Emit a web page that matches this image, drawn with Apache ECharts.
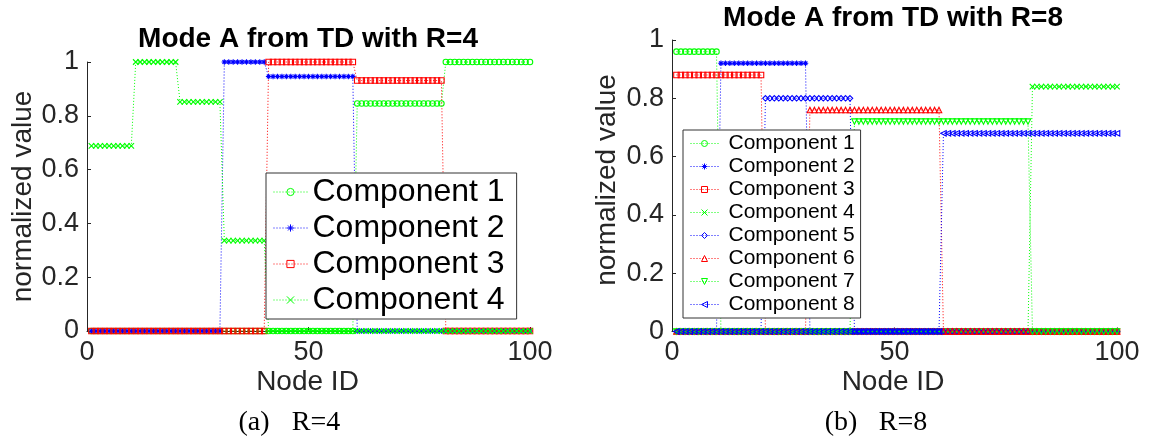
<!DOCTYPE html>
<html><head><meta charset="utf-8">
<script src="https://cdn.jsdelivr.net/npm/echarts@6/dist/echarts.min.js"></script>
<style>html,body{margin:0;padding:0;background:#fff}#c{width:1150px;height:440px}</style>
</head><body><div id="c"></div>
<script>
// ---------- data ----------
const nodeIds = [
1,2,3,4,5,6,7,8,9,10,
11,12,13,14,15,16,17,18,19,20,
21,22,23,24,25,26,27,28,29,30,
31,32,33,34,35,36,37,38,39,40,
41,42,43,44,45,46,47,48,49,50,
51,52,53,54,55,56,57,58,59,60,
61,62,63,64,65,66,67,68,69,70,
71,72,73,74,75,76,77,78,79,80,
81,82,83,84,85,86,87,88,89,90,
91,92,93,94,95,96,97,98,99,100];

const xTicks = [0, 50, 100];
const yTicks = [0, 0.2, 0.4, 0.6, 0.8, 1];

const namesR4 = ['Component 1','Component 2','Component 3','Component 4'];
const namesR8 = ['Component 1','Component 2','Component 3','Component 4','Component 5','Component 6','Component 7','Component 8'];

// R = 4
const r4Comp1 = [
0,0,0,0,0,0,0,0,0,0,
0,0,0,0,0,0,0,0,0,0,
0,0,0,0,0,0,0,0,0,0,
0,0,0,0,0,0,0,0,0,0,
0,0,0,0,0,0,0,0,0,0,
0,0,0,0,0,0,0,0,0,0,
0.846,0.846,0.846,0.846,0.846,0.846,0.846,0.846,0.846,0.846,
0.846,0.846,0.846,0.846,0.846,0.846,0.846,0.846,0.846,0.846,
1,1,1,1,1,1,1,1,1,1,
1,1,1,1,1,1,1,1,1,1];
const r4Comp2 = [
0,0,0,0,0,0,0,0,0,0,
0,0,0,0,0,0,0,0,0,0,
0,0,0,0,0,0,0,0,0,0,
1,1,1,1,1,1,1,1,1,1,
0.946,0.946,0.946,0.946,0.946,0.946,0.946,0.946,0.946,0.946,
0.946,0.946,0.946,0.946,0.946,0.946,0.946,0.946,0.946,0.946,
0,0,0,0,0,0,0,0,0,0,
0,0,0,0,0,0,0,0,0,0,
0,0,0,0,0,0,0,0,0,0,
0,0,0,0,0,0,0,0,0,0];
const r4Comp3 = [
0,0,0,0,0,0,0,0,0,0,
0,0,0,0,0,0,0,0,0,0,
0,0,0,0,0,0,0,0,0,0,
0,0,0,0,0,0,0,0,0,0,
1,1,1,1,1,1,1,1,1,1,
1,1,1,1,1,1,1,1,1,1,
0.931,0.931,0.931,0.931,0.931,0.931,0.931,0.931,0.931,0.931,
0.931,0.931,0.931,0.931,0.931,0.931,0.931,0.931,0.931,0.931,
0,0,0,0,0,0,0,0,0,0,
0,0,0,0,0,0,0,0,0,0];
const r4Comp4 = [
0.688,0.688,0.688,0.688,0.688,0.688,0.688,0.688,0.688,0.688,
1,1,1,1,1,1,1,1,1,1,
0.852,0.852,0.852,0.852,0.852,0.852,0.852,0.852,0.852,0.852,
0.336,0.336,0.336,0.336,0.336,0.336,0.336,0.336,0.336,0.336,
0,0,0,0,0,0,0,0,0,0,
0,0,0,0,0,0,0,0,0,0,
0,0,0,0,0,0,0,0,0,0,
0,0,0,0,0,0,0,0,0,0,
0,0,0,0,0,0,0,0,0,0,
0,0,0,0,0,0,0,0,0,0];

// R = 8
const r8Comp1 = [
0.96,0.96,0.96,0.96,0.96,0.96,0.96,0.96,0.96,0.96,
0,0,0,0,0,0,0,0,0,0,
0,0,0,0,0,0,0,0,0,0,
0,0,0,0,0,0,0,0,0,0,
0,0,0,0,0,0,0,0,0,0,
0,0,0,0,0,0,0,0,0,0,
0,0,0,0,0,0,0,0,0,0,
0,0,0,0,0,0,0,0,0,0,
0,0,0,0,0,0,0,0,0,0,
0,0,0,0,0,0,0,0,0,0];
const r8Comp2 = [
0,0,0,0,0,0,0,0,0,0,
0.92,0.92,0.92,0.92,0.92,0.92,0.92,0.92,0.92,0.92,
0.92,0.92,0.92,0.92,0.92,0.92,0.92,0.92,0.92,0.92,
0,0,0,0,0,0,0,0,0,0,
0,0,0,0,0,0,0,0,0,0,
0,0,0,0,0,0,0,0,0,0,
0,0,0,0,0,0,0,0,0,0,
0,0,0,0,0,0,0,0,0,0,
0,0,0,0,0,0,0,0,0,0,
0,0,0,0,0,0,0,0,0,0];
const r8Comp3 = [
0.88,0.88,0.88,0.88,0.88,0.88,0.88,0.88,0.88,0.88,
0.88,0.88,0.88,0.88,0.88,0.88,0.88,0.88,0.88,0.88,
0,0,0,0,0,0,0,0,0,0,
0,0,0,0,0,0,0,0,0,0,
0,0,0,0,0,0,0,0,0,0,
0,0,0,0,0,0,0,0,0,0,
0,0,0,0,0,0,0,0,0,0,
0,0,0,0,0,0,0,0,0,0,
0,0,0,0,0,0,0,0,0,0,
0,0,0,0,0,0,0,0,0,0];
const r8Comp4 = [
0,0,0,0,0,0,0,0,0,0,
0,0,0,0,0,0,0,0,0,0,
0,0,0,0,0,0,0,0,0,0,
0,0,0,0,0,0,0,0,0,0,
0,0,0,0,0,0,0,0,0,0,
0,0,0,0,0,0,0,0,0,0,
0,0,0,0,0,0,0,0,0,0,
0,0,0,0,0,0,0,0,0,0,
0.84,0.84,0.84,0.84,0.84,0.84,0.84,0.84,0.84,0.84,
0.84,0.84,0.84,0.84,0.84,0.84,0.84,0.84,0.84,0.84];
const r8Comp5 = [
0,0,0,0,0,0,0,0,0,0,
0,0,0,0,0,0,0,0,0,0,
0.80,0.80,0.80,0.80,0.80,0.80,0.80,0.80,0.80,0.80,
0.80,0.80,0.80,0.80,0.80,0.80,0.80,0.80,0.80,0.80,
0,0,0,0,0,0,0,0,0,0,
0,0,0,0,0,0,0,0,0,0,
0,0,0,0,0,0,0,0,0,0,
0,0,0,0,0,0,0,0,0,0,
0,0,0,0,0,0,0,0,0,0,
0,0,0,0,0,0,0,0,0,0];
const r8Comp6 = [
0,0,0,0,0,0,0,0,0,0,
0,0,0,0,0,0,0,0,0,0,
0,0,0,0,0,0,0,0,0,0,
0.76,0.76,0.76,0.76,0.76,0.76,0.76,0.76,0.76,0.76,
0.76,0.76,0.76,0.76,0.76,0.76,0.76,0.76,0.76,0.76,
0.76,0.76,0.76,0.76,0.76,0.76,0.76,0.76,0.76,0.76,
0,0,0,0,0,0,0,0,0,0,
0,0,0,0,0,0,0,0,0,0,
0,0,0,0,0,0,0,0,0,0,
0,0,0,0,0,0,0,0,0,0];
const r8Comp7 = [
0,0,0,0,0,0,0,0,0,0,
0,0,0,0,0,0,0,0,0,0,
0,0,0,0,0,0,0,0,0,0,
0,0,0,0,0,0,0,0,0,0,
0.72,0.72,0.72,0.72,0.72,0.72,0.72,0.72,0.72,0.72,
0.72,0.72,0.72,0.72,0.72,0.72,0.72,0.72,0.72,0.72,
0.72,0.72,0.72,0.72,0.72,0.72,0.72,0.72,0.72,0.72,
0.72,0.72,0.72,0.72,0.72,0.72,0.72,0.72,0.72,0.72,
0,0,0,0,0,0,0,0,0,0,
0,0,0,0,0,0,0,0,0,0];
const r8Comp8 = [
0,0,0,0,0,0,0,0,0,0,
0,0,0,0,0,0,0,0,0,0,
0,0,0,0,0,0,0,0,0,0,
0,0,0,0,0,0,0,0,0,0,
0,0,0,0,0,0,0,0,0,0,
0,0,0,0,0,0,0,0,0,0,
0.68,0.68,0.68,0.68,0.68,0.68,0.68,0.68,0.68,0.68,
0.68,0.68,0.68,0.68,0.68,0.68,0.68,0.68,0.68,0.68,
0.68,0.68,0.68,0.68,0.68,0.68,0.68,0.68,0.68,0.68,
0.68,0.68,0.68,0.68,0.68,0.68,0.68,0.68,0.68,0.68];

// ---------- styling ----------
const G = '#00ff00', B = '#0000ff', R = '#ff0000';
const SYM = {
  circle: 'circle',
  star: 'path://M5,0L5,10M0,5L10,5M1.6,1.6L8.4,8.4M8.4,1.6L1.6,8.4',
  square: 'rect',
  cross: 'path://M0,0L10,10M10,0L0,10',
  diamond: 'diamond',
  up: 'triangle',
  down: 'path://M0,0L10,0L5,9Z',
  left: 'path://M10,0L10,10L1,5Z'
};
const SANS = '"Liberation Sans", Arial, Helvetica, sans-serif';
const SERIF = '"Liberation Serif", "Times New Roman", serif';
const AX = '#262626';

function mk(name, vals, color, symbol, gi) {
  return {
    type: 'line', name: name, xAxisIndex: gi, yAxisIndex: gi,
    data: nodeIds.map((n, i) => [n, vals[i]]),
    symbol: symbol, symbolSize: 5.5, showSymbol: true, showAllSymbol: true,
    clip: false, animation: false, silent: true,
    lineStyle: { color: color, width: 1, type: [1, 2] },
    itemStyle: { color: 'rgba(255,255,255,0)', borderColor: color, borderWidth: 1.1 },
    emphasis: { disabled: true }
  };
}

const series = [
  mk(namesR4[0], r4Comp1, G, SYM.circle, 0),
  mk(namesR4[1], r4Comp2, B, SYM.star, 0),
  mk(namesR4[2], r4Comp3, R, SYM.square, 0),
  mk(namesR4[3], r4Comp4, G, SYM.cross, 0),
  mk(namesR8[0], r8Comp1, G, SYM.circle, 1),
  mk(namesR8[1], r8Comp2, B, SYM.star, 1),
  mk(namesR8[2], r8Comp3, R, SYM.square, 1),
  mk(namesR8[3], r8Comp4, G, SYM.cross, 1),
  mk(namesR8[4], r8Comp5, B, SYM.diamond, 1),
  mk(namesR8[5], r8Comp6, R, SYM.up, 1),
  mk(namesR8[6], r8Comp7, G, SYM.down, 1),
  mk(namesR8[7], r8Comp8, B, SYM.left, 1)
];

function xAx(gi) {
  return {
    gridIndex: gi, type: 'value', min: xTicks[0], max: xTicks[xTicks.length - 1], interval: xTicks[1] - xTicks[0],
    axisLine: { show: true, onZero: false, lineStyle: { color: AX, width: 1 } },
    axisTick: { show: true, inside: true, length: 4, lineStyle: { color: AX } },
    axisLabel: { fontSize: 27, color: AX, margin: 8, fontFamily: SANS },
    splitLine: { show: false }
  };
}
function yAx(gi) {
  return {
    gridIndex: gi, type: 'value', min: yTicks[0], max: yTicks[yTicks.length - 1], interval: yTicks[1] - yTicks[0],
    axisLine: { show: true, onZero: false, lineStyle: { color: AX, width: 1 } },
    axisTick: { show: true, inside: true, length: 4, lineStyle: { color: AX } },
    axisLabel: { fontSize: 27, color: AX, margin: 8, fontFamily: SANS },
    splitLine: { show: false }
  };
}

function txt(t, x, y, size, opts) {
  opts = opts || {};
  return {
    type: 'text', x: x, y: y, rotation: opts.rot || 0, silent: true,
    style: {
      text: t, fill: opts.color || '#000', fontSize: size,
      fontFamily: opts.family || SANS, fontWeight: opts.weight || 'normal',
      align: 'center', verticalAlign: 'middle'
    }
  };
}

const option = {
  animation: false,
  backgroundColor: '#fff',
  grid: [
    { left: 87, top: 62, width: 443, height: 269 },
    { left: 672, top: 40, width: 445, height: 291.5 }
  ],
  xAxis: [xAx(0), xAx(1)],
  yAxis: [yAx(0), yAx(1)],
  legend: [
    {
      data: namesR4, orient: 'vertical', left: 266, top: 173,
      padding: [1, 12, 1, 7], itemWidth: 34, itemHeight: 9, itemGap: 0,
      borderColor: '#333', borderWidth: 1, backgroundColor: '#fff',
      selectedMode: false,
      textStyle: { fontSize: 32, lineHeight: 36, color: '#000', fontFamily: SANS },
      lineStyle: { width: 1, type: [1, 2] },
      itemStyle: { borderWidth: 1 }
    },
    {
      data: namesR8, orient: 'vertical', left: 683, top: 130,
      padding: [2, 6, 2, 7], itemWidth: 28, itemHeight: 7.5, itemGap: 0,
      borderColor: '#333', borderWidth: 1, backgroundColor: '#fff',
      selectedMode: false,
      textStyle: { fontSize: 21, lineHeight: 23, color: '#000', fontFamily: SANS, padding: [0, 0, 0, 5] },
      lineStyle: { width: 1, type: [1, 2] },
      itemStyle: { borderWidth: 1 }
    }
  ],
  graphic: [
    txt('Mode A from TD with R=4', 308, 39.5, 28, { weight: 'bold' }),
    txt('Mode A from TD with R=8', 893, 18.5, 28, { weight: 'bold' }),
    txt('normalized value', 23.5, 196.5, 28, { rot: Math.PI / 2, color: AX }),
    txt('normalized value', 607.5, 180, 28, { rot: Math.PI / 2, color: AX }),
    txt('Node ID', 307.5, 382, 28, { color: AX }),
    txt('Node ID', 893, 382, 28, { color: AX }),
    txt('(a)', 254, 423, 28, { family: SERIF }),
    txt('R=4', 316, 423, 28, { family: SERIF }),
    txt('(b)', 841, 423, 28, { family: SERIF }),
    txt('R=8', 903, 423, 28, { family: SERIF })
  ],
  series: series
};

const chart = echarts.init(document.getElementById('c'), null, { renderer: 'canvas' });
chart.setOption(option);
</script>
</body></html>
